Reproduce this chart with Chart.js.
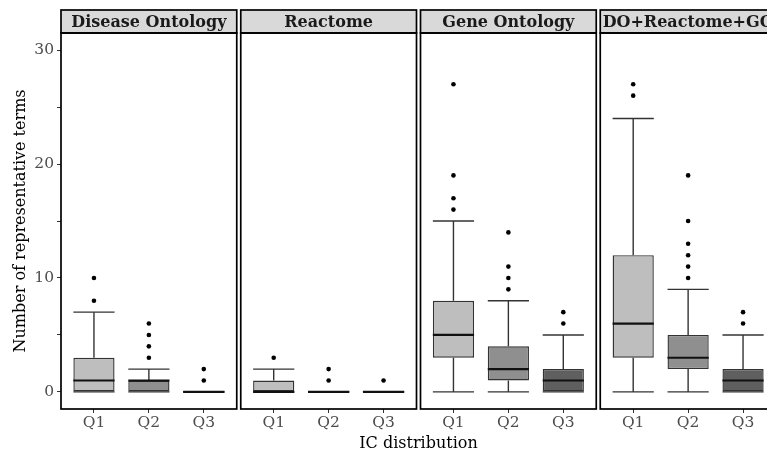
<!DOCTYPE html>
<html>
<head>
<meta charset="utf-8">
<script src="https://cdn.jsdelivr.net/npm/chart.js@4.4.1/dist/chart.umd.min.js"></script>
<style>
  body { margin: 0; background: #ffffff; }
  #wrap { width: 767px; height: 453px; overflow: hidden; position: relative; }
</style>
</head>
<body>
<div id="wrap"><canvas id="chart" width="780" height="453"></canvas></div>
<script>
// facet titles and IC quantile groups
const panels = ['Disease Ontology', 'Reactome', 'Gene Ontology', 'DO+Reactome+GO'];
const categories = ['Q1', 'Q2', 'Q3'];

// box stats per group: [lower whisker, q1, median, q3, upper whisker]
const doStats = [[0, 0, 1, 3, 7], [0, 0, 1, 1, 2], [0, 0, 0, 0, 0]];
const reactomeStats = [[0, 0, 0, 1, 2], [0, 0, 0, 0, 0], [0, 0, 0, 0, 0]];
const goStats = [[0, 3, 5, 8, 15], [0, 1, 2, 4, 8], [0, 0, 1, 2, 5]];
const allStats = [[0, 3, 6, 12, 24], [0, 2, 3, 5, 9], [0, 0, 1, 2, 5]];

// outliers per group
const doOutliers = [[8, 10], [3, 4, 5, 6], [1, 2]];
const reactomeOutliers = [[3], [1, 2], [1]];
const goOutliers = [[16, 17, 19, 27], [9, 10, 11, 14], [6, 7]];
const allOutliers = [[26, 27], [10, 11, 12, 13, 15, 19], [6, 7]];

const yTickValues = [0, 5, 10, 15, 20, 25, 30];
const yLabelValues = [0, 10, 20, 30];

const panelStats = [doStats, reactomeStats, goStats, allStats];
const panelOutliers = [doOutliers, reactomeOutliers, goOutliers, allOutliers];

const fillColors = ['#bebebe', '#8f8f8f', '#5f5f5f'];
const FONT = "'DejaVu Serif', serif";

// each facet spans 3.2 units on x (discrete expansion 0.6), small gap between facets
const PANEL_GAP = 12 / 165;
const PANEL_STEP = 3.2 + PANEL_GAP;
const BOX_WIDTH = 0.75;
const xPos = (p, c) => p * PANEL_STEP + 1 + c;

const boxData = [];
const outlierData = [];
const tickPositions = [];
panelStats.forEach((stats, p) => {
    stats.forEach((s, c) => {
        boxData.push({ x: xPos(p, c), y: [s[1], s[3]], cat: c });
        tickPositions.push(xPos(p, c));
        panelOutliers[p][c].forEach(v => outlierData.push({ x: xPos(p, c), y: v }));
    });
});

const facetPlugin = {
    id: 'facets',
    beforeDatasetsDraw(chart) {
        const { ctx, scales: { x, y } } = chart;
        ctx.save();
        ctx.strokeStyle = '#333333';
        ctx.lineWidth = 1.4;
        const seg = (x1, y1, x2, y2) => {
            ctx.beginPath(); ctx.moveTo(x1, y1); ctx.lineTo(x2, y2); ctx.stroke();
        };
        panelStats.forEach((stats, p) => stats.forEach((s, c) => {
            const pos = xPos(p, c);
            const xc = x.getPixelForValue(pos);
            const xl = x.getPixelForValue(pos - BOX_WIDTH / 2);
            const xr = x.getPixelForValue(pos + BOX_WIDTH / 2);
            seg(xc, y.getPixelForValue(s[3]), xc, y.getPixelForValue(s[4]));
            seg(xc, y.getPixelForValue(s[1]), xc, y.getPixelForValue(s[0]));
            seg(xl, y.getPixelForValue(s[4]), xr, y.getPixelForValue(s[4]));
            seg(xl, y.getPixelForValue(s[0]), xr, y.getPixelForValue(s[0]));
        }));
        ctx.restore();
    },
    afterDatasetsDraw(chart) {
        const { ctx, scales: { x, y } } = chart;
        ctx.save();
        ctx.strokeStyle = '#111111';
        ctx.lineWidth = 2.2;
        panelStats.forEach((stats, p) => stats.forEach((s, c) => {
            const pos = xPos(p, c);
            const ym = y.getPixelForValue(s[2]);
            ctx.beginPath();
            ctx.moveTo(x.getPixelForValue(pos - BOX_WIDTH / 2), ym);
            ctx.lineTo(x.getPixelForValue(pos + BOX_WIDTH / 2), ym);
            ctx.stroke();
        }));
        ctx.restore();
    },
    afterDraw(chart) {
        const { ctx, chartArea, scales: { x } } = chart;
        ctx.save();
        panels.forEach((name, p) => {
            const left = x.getPixelForValue(p * PANEL_STEP + 0.4);
            const right = x.getPixelForValue(p * PANEL_STEP + 3.6);
            // strip
            ctx.fillStyle = '#d9d9d9';
            ctx.fillRect(left, 10, right - left, chartArea.top - 10);
            ctx.strokeStyle = '#000000';
            ctx.lineWidth = 1.7;
            ctx.strokeRect(left, 10, right - left, chartArea.top - 10);
            ctx.fillStyle = '#1a1a1a';
            ctx.font = 'bold 16px ' + FONT;
            ctx.textAlign = 'center';
            ctx.textBaseline = 'middle';
            ctx.fillText(name, (left + right) / 2, (10 + chartArea.top) / 2 + 1);
            // panel border
            ctx.strokeRect(left, chartArea.top, right - left, chartArea.bottom - chartArea.top);
        });
        ctx.restore();
    }
};

new Chart(document.getElementById('chart'), {
    type: 'bar',
    data: {
        datasets: [{
            type: 'bar',
            data: boxData,
            backgroundColor: c => fillColors[c.raw ? c.raw.cat : 0],
            borderColor: '#333333',
            borderWidth: 1.4,
            borderSkipped: false,
            barPercentage: 0.75,
            categoryPercentage: 1,
            grouped: false,
            order: 2
        }, {
            type: 'scatter',
            data: outlierData,
            pointRadius: 2.3,
            pointBackgroundColor: '#000000',
            pointBorderWidth: 0,
            order: 1
        }]
    },
    options: {
        responsive: false,
        animation: false,
        layout: { padding: { top: 33, right: 3, bottom: 0, left: 0 } },
        plugins: { legend: { display: false }, tooltip: { enabled: false } },
        scales: {
            x: {
                type: 'linear',
                offset: false,
                min: 0.4,
                max: 3 * PANEL_STEP + 3.6,
                afterBuildTicks: scale => { scale.ticks = tickPositions.map(v => ({ value: v })); },
                afterFit: scale => { scale.height = 44; },
                border: { display: false },
                grid: { drawOnChartArea: false, drawTicks: true, tickLength: 4, color: '#333333', offset: false },
                ticks: {
                    autoSkip: false, maxRotation: 0, padding: 1,
                    color: '#4d4d4d', font: { family: FONT, size: 15.5 },
                    callback: (value, index) => categories[index % categories.length]
                },
                title: {
                    display: true, text: 'IC distribution', color: '#000000',
                    font: { family: FONT, size: 16 }, padding: { top: 1, bottom: 0 }
                }
            },
            y: {
                min: -1.5,
                max: 31.5,
                afterBuildTicks: scale => { scale.ticks = yTickValues.map(v => ({ value: v })); },
                afterFit: scale => { scale.width = 61; },
                border: { display: false },
                grid: { drawOnChartArea: false, drawTicks: true, tickLength: 4, color: '#333333' },
                ticks: {
                    padding: 3, color: '#4d4d4d', font: { family: FONT, size: 15.5 },
                    callback: value => yLabelValues.includes(value) ? String(value) : ''
                },
                title: {
                    display: true, text: 'Number of representative terms', color: '#000000',
                    font: { family: FONT, size: 16 }, padding: { top: 11, bottom: 0 }
                }
            }
        }
    },
    plugins: [facetPlugin]
});
</script>
</body>
</html>
